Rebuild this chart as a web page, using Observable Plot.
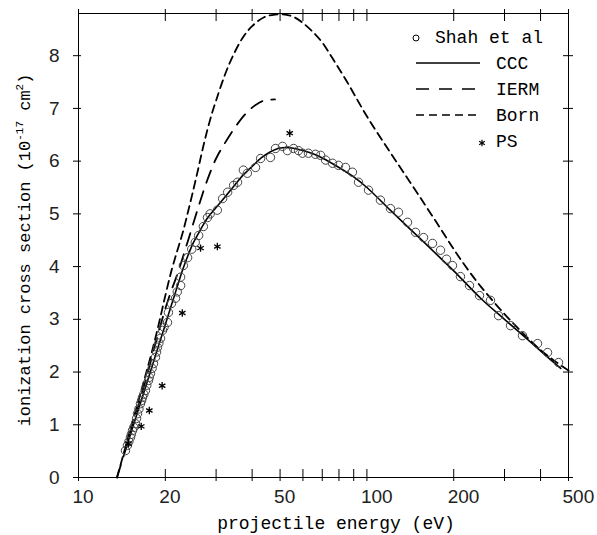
<!DOCTYPE html>
<html><head><meta charset="utf-8">
<script src="https://cdn.jsdelivr.net/npm/d3@7"></script>
<script src="https://cdn.jsdelivr.net/npm/@observablehq/plot@0.6"></script>
<style>body{margin:0;background:#fff}</style>
</head><body><div id="chart"></div>
<script>
// Shah et al (experiment)
const shahE = [14.55,14.78,14.95,15.14,15.25,15.39,15.55,15.76,15.9,16.02,16.2,16.4,16.55,16.67,16.85,17.07,17.25,17.48,17.6,17.77,18.0,18.2,18.49,18.65,18.79,19.0,19.25,19.56,19.8,20.35,20.5,21.0,21.7,22.0,22.6,22.6,23.1,23.9,24.7,25.4,26.1,27.1,28.0,28.6,30.3,31.6,32.9,34.5,35.6,37.3,38.5,41.1,42.8,46.3,48.2,51.0,53.0,55.7,57.9,59.8,62.7,66.3,69.1,71.9,76.0,79.7,84.3,89.1,93.5,101.3,111.4,120.7,128.7,138.3,147.4,157.2,168.8,180,188.8,198,211,226.8,245.7,268.2,286,314.7,346.3,390.5,423,461.7];
const shahV = [0.51,0.61,0.68,0.76,0.82,0.89,0.95,1.02,1.12,1.21,1.30,1.40,1.46,1.52,1.58,1.65,1.75,1.84,1.90,1.97,2.07,2.16,2.28,2.38,2.47,2.55,2.64,2.79,2.85,2.94,3.13,3.30,3.40,3.52,3.64,3.80,4.02,4.17,4.33,4.46,4.59,4.76,4.93,5.00,5.07,5.29,5.41,5.54,5.60,5.83,5.77,5.88,6.05,6.07,6.24,6.28,6.20,6.24,6.20,6.15,6.15,6.13,6.11,6.02,5.96,5.92,5.88,5.79,5.60,5.45,5.26,5.10,5.03,4.84,4.65,4.55,4.44,4.31,4.14,4.02,3.81,3.64,3.45,3.36,3.07,2.88,2.69,2.54,2.37,2.18];
// CCC
const cccE = [14.5,16,17,18,19,20,21,22,23,24,25,26,27,28,30,32,34.5,37,40,43,46,50,55,60,65,70,80,90,100,120,140,160,180,200,250,300,350,400,470];
const cccV = [0.5,1.23,1.68,2.11,2.52,2.9,3.27,3.62,3.95,4.22,4.45,4.62,4.78,4.92,5.12,5.3,5.52,5.72,5.9,6.06,6.17,6.25,6.25,6.2,6.14,6.06,5.88,5.7,5.5,5.08,4.73,4.43,4.16,3.92,3.38,3.0,2.68,2.4,2.07];
// IERM
const iermE = [13.6,14.5,15,16,17,18,19,20,21,22,24,26,28,30,32,35,38,41,44,48];
const iermV = [0,0.5,0.78,1.3,1.8,2.3,2.78,3.2,3.55,3.85,4.5,5.12,5.65,6.05,6.32,6.65,6.9,7.06,7.15,7.17];
// Born
const bornE = [13.6,14.5,15,16,17,18,19,20,21,22,23,24,25,26,27,28,29,30,32,34,37,40,44,48,52,56,60,65,70,76,85,100,120,140,160,180,200,220,250,300,350,400,450,500];
const bornV = [0,0.55,0.85,1.38,1.9,2.4,2.92,3.45,3.92,4.3,4.65,5.05,5.45,5.85,6.25,6.6,6.9,7.15,7.6,7.95,8.33,8.56,8.73,8.78,8.78,8.73,8.62,8.45,8.25,7.95,7.52,6.85,6.18,5.63,5.15,4.72,4.33,4.0,3.6,3.1,2.72,2.42,2.2,2.03];
// PS
const psE = [14.9,16.5,17.6,19.5,22.9,26.5,30.3,54.0];
const psV = [0.64,0.97,1.27,1.74,3.12,4.35,4.38,6.53];

const xTickAll = [10,20,30,40,50,60,70,80,90,100,200,300,400,500];
const xTickLabels = [10,20,50,100,200,500];
const yTicks = [0,1,2,3,4,5,6,7,8];

const zip = (E, V) => E.map((e, i) => ({E: e, v: V[i]}));
const shah = zip(shahE, shahV), ccc = zip(cccE, cccV), ierm = zip(iermE, iermV), born = zip(bornE, bornV), ps = zip(psE, psV);

const tickFont = "'Liberation Sans', Arial, sans-serif";
const mono = "'Liberation Mono', 'Courier New', monospace";

const chart = Plot.plot({
  width: 597, height: 535,
  marginLeft: 78, marginRight: 29, marginTop: 13, marginBottom: 58,
  x: {type: "log", domain: [10, 500], axis: null},
  y: {domain: [0, 8.8], axis: null},
  style: {background: "white", fontFamily: tickFont, color: "black"},
  marks: [
    Plot.frame({stroke: "black", strokeWidth: 1}),
    // crossing ticks on all four sides
    Plot.ruleX(xTickAll, {x: d => d, insetTop: 456, insetBottom: -4, stroke: "black"}),
    Plot.ruleX(xTickAll, {x: d => d, insetTop: -4, insetBottom: 456, stroke: "black"}),
    Plot.ruleY(yTicks, {y: d => d, insetLeft: -5, insetRight: 487, stroke: "black"}),
    Plot.ruleY(yTicks, {y: d => d, insetLeft: 485, insetRight: -5, stroke: "black"}),
    // tick labels
    Plot.text(xTickLabels, {x: d => d, frameAnchor: "bottom", dy: 25, dx: -6, textAnchor: "start", text: d => String(d), fontSize: 19, fill: "#222"}),
    Plot.text(yTicks, {y: d => d, frameAnchor: "left", dx: -19, textAnchor: "end", text: d => String(d), fontSize: 19, fill: "#222"}),
    Plot.line(born, {x: "E", y: "v", stroke: "black", strokeWidth: 1.8, strokeDasharray: "8,5", curve: "catmull-rom"}),
    Plot.line(ierm, {x: "E", y: "v", stroke: "black", strokeWidth: 1.8, strokeDasharray: "13,9", curve: "catmull-rom"}),
    Plot.line(ccc, {x: "E", y: "v", stroke: "black", strokeWidth: 1.6, curve: "catmull-rom"}),
    Plot.dot(shah, {x: "E", y: "v", r: 4.2, stroke: "#444", strokeWidth: 1, fill: "none"}),
    Plot.dot(ps, {x: "E", y: "v", r: 3.5, symbol: "asterisk", stroke: "black", strokeWidth: 1.3})
  ]
});
document.getElementById("chart").appendChild(chart);

const svg = d3.select(chart);
// x title
svg.append("text").attr("x", 336).attr("y", 529).attr("text-anchor", "middle")
  .style("font-family", mono).style("font-size", "18px").attr("fill", "black")
  .text("projectile energy (eV)");
// y title
const yt = svg.append("text").attr("transform", "translate(30,250) rotate(-90)").attr("text-anchor", "middle")
  .style("font-family", mono).style("font-size", "17px").attr("fill", "black");
yt.append("tspan").text("ionization cross section (10");
yt.append("tspan").attr("dy", -7).style("font-size", "11px").text("-17");
yt.append("tspan").attr("dy", 7).text(" cm");
yt.append("tspan").attr("dy", -7).style("font-size", "11px").text("2");
yt.append("tspan").attr("dy", 7).text(")");

// legend
const lg = svg.append("g").style("font-family", mono).style("font-size", "18px").attr("text-anchor", "start");
const rows = [
  {label: "Shah et al", y: 37, kind: "circle", tx: 435},
  {label: "CCC", y: 63, kind: "line", dash: null, tx: 496},
  {label: "IERM", y: 89, kind: "line", dash: "13,10", tx: 496},
  {label: "Born", y: 115, kind: "line", dash: "8,5", tx: 496},
  {label: "PS", y: 141, kind: "star", tx: 496}
];
rows.forEach(r => {
  if (r.kind === "circle") {
    lg.append("circle").attr("cx", 416).attr("cy", r.y + 1).attr("r", 3).attr("fill", "none").attr("stroke", "black");
  } else if (r.kind === "line") {
    lg.append("line").attr("x1", 416).attr("x2", 480).attr("y1", r.y).attr("y2", r.y)
      .attr("stroke", "black").attr("stroke-width", 1.6).attr("stroke-dasharray", r.dash);
  } else {
    lg.append("path").attr("d", d3.symbol(d3.symbolAsterisk, 30)()).attr("transform", `translate(482,${r.y + 2})`)
      .attr("stroke", "black").attr("stroke-width", 1.2).attr("fill", "none");
  }
  lg.append("text").attr("x", r.tx).attr("y", r.y + 6).attr("fill", "black").attr("text-anchor", "start").text(r.label);
});
</script>
</body></html>
